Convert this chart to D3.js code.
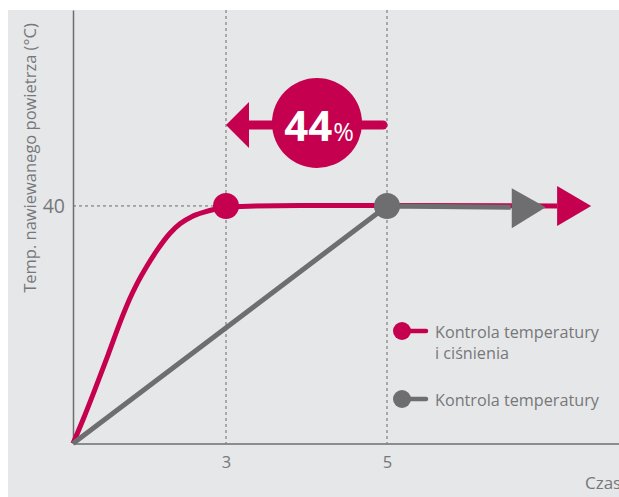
<!DOCTYPE html>
<html><head><meta charset="utf-8">
<script src="https://cdn.jsdelivr.net/npm/d3@7"></script>
<style>
html,body{margin:0;padding:0;background:#fff;}
svg{display:block;font-family:"Open Sans","Noto Sans",sans-serif;}
</style></head>
<body><svg id="chart" width="619" height="497"></svg>
<script>
// ---- data ----
const xTicks = [3, 5];
const yTicks = [40];
const redTime = [0, 0.196, 0.425, 0.686, 0.955, 1.104, 1.261, 1.445, 1.653, 1.902, 2.098, 2.327, 2.588, 2.784, 3.0, 3.92, 5.0, 7.2];
const redTemp = [0, 4.0, 9.0, 14.9, 21.1, 24.2, 27.0, 29.8, 32.6, 35.4, 37.0, 38.2, 39.0, 39.45, 39.83, 40.08, 40.08, 40.0];
const grayTime = [0, 5, 6.6];
const grayTemp = [0, 40, 39.8];
const redMarker = {t: 3, v: 40};
const grayMarker = {t: 5, v: 40};
const seriesNames = ["Kontrola temperatury", "Kontrola temperatury"];
const seriesNameLine2 = ["i ciśnienia", ""];
const badgeText = "44";
const badgeUnit = "%";
const yLabel = "Temp. nawiewanego powietrza (°C)";
const xLabel = "Czas";

const RED = "#c4004f", GRAY = "#6e6e70", BG = "#e6e7e9", TXT = "#77777a";

const svg = d3.select("#chart");
svg.append("rect").attr("x", 8).attr("y", 10).attr("width", 611).attr("height", 487).attr("fill", BG);

const x = d3.scaleLinear().domain([0, 3, 5, 8]).range([73, 226, 387, 619]);
const y = d3.scaleLinear().domain([0, 73]).range([443.5, 10]);

// dashed guides
const g = svg.append("g");
xTicks.forEach(t => {
  g.append("line").attr("x1", x(t)).attr("x2", x(t)).attr("y1", 10).attr("y2", y(0))
    .attr("stroke", "#6a6a6a").attr("stroke-width", 1).attr("stroke-dasharray", "3,3");
});
yTicks.forEach(v => {
  g.append("line").attr("x1", x(0)).attr("x2", x(3)).attr("y1", y(v)).attr("y2", y(v))
    .attr("stroke", "#6a6a6a").attr("stroke-width", 1).attr("stroke-dasharray", "3,3");
});

// axes
const xAxis = d3.axisBottom(x).tickValues(xTicks).tickSize(0).tickPadding(13);
const xa = svg.append("g").attr("transform", `translate(0,${y(0)})`).call(xAxis);
xa.select(".domain").attr("stroke", "#6e6e70").attr("stroke-width", 1.5);
xa.selectAll("text").attr("fill", TXT).attr("font-size", 16.5).attr("font-family", "Open Sans");
const yAxis = d3.axisLeft(y).tickValues(yTicks).tickSize(0).tickPadding(8);
const ya = svg.append("g").attr("transform", `translate(${x(0)},0)`).call(yAxis);
ya.select(".domain").attr("stroke", "#6e6e70").attr("stroke-width", 1.5);
ya.selectAll("text").attr("fill", TXT).attr("font-size", 19.5).attr("font-family", "Open Sans");

svg.append("text").attr("transform", `translate(36,158) rotate(-90)`).attr("text-anchor", "middle")
  .attr("fill", TXT).attr("font-size", 16.5).text(yLabel);
svg.append("text").attr("x", 585).attr("y", 489).attr("fill", TXT).attr("font-size", 17).text(xLabel);

// lines
const line = d3.line().x(d => x(d[0])).y(d => y(d[1]));
const redLine = d3.line().x(d => x(d[0])).y(d => y(d[1])).curve(d3.curveMonotoneX);
const redData = redTime.map((t, i) => [t, redTemp[i]]);
const grayData = grayTime.map((t, i) => [t, grayTemp[i]]);

svg.append("path").datum(redData).attr("d", redLine).attr("fill", "none")
  .attr("stroke", RED).attr("stroke-width", 5).attr("stroke-linejoin", "round");
// red arrowhead
const rEnd = redData[redData.length - 1];
const rx = x(rEnd[0]), ry = y(rEnd[1]);
svg.append("path").attr("d", `M${rx},${ry - 20} L${rx + 34},${ry} L${rx},${ry + 20} Z`).attr("fill", RED);

svg.append("path").datum(grayData).attr("d", line).attr("fill", "none")
  .attr("stroke", GRAY).attr("stroke-width", 5);
const gEnd = grayData[grayData.length - 1];
const gx = x(gEnd[0]), gy = y(gEnd[1]);
svg.append("path").attr("d", `M${gx + 1},${gy - 19} L${gx + 35},${gy} L${gx + 1},${gy + 21} Z`).attr("fill", GRAY);

// markers
svg.append("circle").attr("cx", x(redMarker.t)).attr("cy", y(redMarker.v)).attr("r", 13).attr("fill", RED);
svg.append("circle").attr("cx", x(grayMarker.t)).attr("cy", y(grayMarker.v)).attr("r", 13).attr("fill", GRAY);

// 44% badge
const by = 125;
const b = svg.append("g");
b.append("line").attr("x1", 300).attr("x2", 383).attr("y1", by).attr("y2", by)
  .attr("stroke", RED).attr("stroke-width", 9).attr("stroke-linecap", "round");
b.append("line").attr("x1", 245).attr("x2", 300).attr("y1", by).attr("y2", by)
  .attr("stroke", RED).attr("stroke-width", 9);
b.append("path").attr("d", `M${x(3)},${by} L${249},${by - 23} L${249},${by + 23} Z`).attr("fill", RED);
b.append("circle").attr("cx", 317).attr("cy", 123).attr("r", 45).attr("fill", RED);
const bt = b.append("text").attr("x", 319).attr("y", 141).attr("text-anchor", "middle").attr("fill", "#fff");
bt.append("tspan").attr("font-size", 42).attr("font-weight", "bold").text(badgeText);
bt.append("tspan").attr("font-size", 25).attr("dx", 1).text(badgeUnit);

// legend
const legY = [331, 399];
const legCol = [RED, GRAY];
legY.forEach((ly, i) => {
  svg.append("line").attr("x1", 402).attr("x2", 426).attr("y1", ly).attr("y2", ly)
    .attr("stroke", legCol[i]).attr("stroke-width", 4.5).attr("stroke-linecap", "round");
  svg.append("circle").attr("cx", 402).attr("cy", ly).attr("r", 9).attr("fill", legCol[i]);
  const t = svg.append("text").attr("x", 435).attr("y", ly + 7).attr("fill", TXT).attr("font-size", 16.2);
  t.append("tspan").text(seriesNames[i]);
  if (seriesNameLine2[i]) t.append("tspan").attr("x", 435).attr("dy", 21).text(seriesNameLine2[i]);
});
</script></body></html>
